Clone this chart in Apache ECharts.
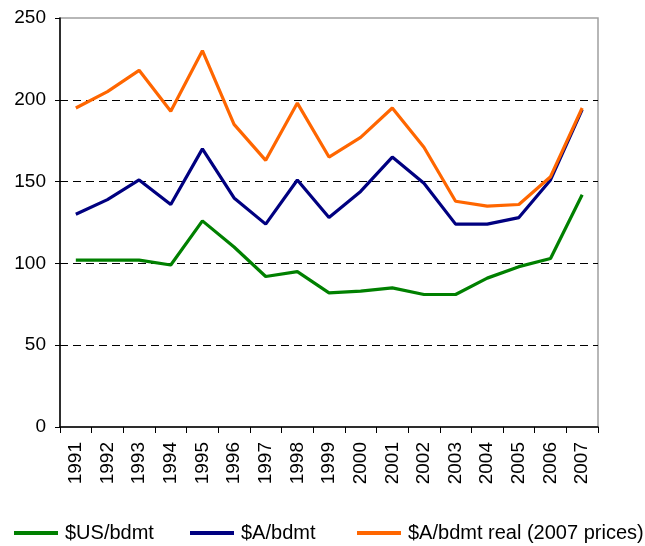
<!DOCTYPE html>
<html>
<head>
<meta charset="utf-8">
<script src="https://cdn.jsdelivr.net/npm/echarts@6/dist/echarts.min.js"></script>
<style>
  html, body { margin: 0; padding: 0; background: #fff; }
  #chart { width: 645px; height: 546px; }
</style>
</head>
<body>
<div id="chart"></div>
<script>
// Years on the category axis
const years = ['1991','1992','1993','1994','1995','1996','1997','1998','1999',
               '2000','2001','2002','2003','2004','2005','2006','2007'];

// Price per bone-dry metric tonne
const usdPerBdmt = [102, 102, 102, 99, 126, 110, 92, 95, 82, 83, 85, 81, 81, 91, 98, 103, 142];
const audPerBdmt = [130, 139, 151, 136, 170, 140, 124, 151, 128, 144, 165, 149, 124, 124, 128, 151, 194];
const audRealPerBdmt = [195, 205, 218, 193, 230, 185, 163, 198, 165, 177, 195, 171, 138, 135, 136, 153, 195];

const seriesNames = ['$US/bdmt', '$A/bdmt', '$A/bdmt real (2007 prices)'];
const seriesColors = ['#008000', '#000080', '#ff6600'];
const yTicks = { min: 0, max: 250, interval: 50 };

const font = 'Liberation Sans, Arial, sans-serif';
const chart = echarts.init(document.getElementById('chart'), null, { renderer: 'canvas' });

const legendLeft = [14, 190, 357];

chart.setOption({
  animation: false,
  backgroundColor: '#ffffff',
  textStyle: { fontFamily: font, color: '#000' },
  grid: { left: 60, top: 18, right: 47, bottom: 119, show: true, borderColor: '#a0a0a0', borderWidth: 1.5 },
  legend: seriesNames.map((n, i) => ({
    data: [n],
    left: legendLeft[i],
    top: 523,
    padding: 0,
    icon: 'rect',
    itemWidth: 44,
    itemHeight: 4,
    itemGap: 4,
    textStyle: { fontFamily: font, fontSize: 20, color: '#000', padding: [0, 0, 0, 2] }
  })),
  xAxis: {
    type: 'category',
    data: years,
    boundaryGap: true,
    axisLine: { show: true, lineStyle: { color: '#000', width: 1.5 } },
    axisTick: { show: true, length: 6, inside: false, lineStyle: { color: '#000', width: 1 } },
    axisLabel: { rotate: 90, fontSize: 19, color: '#000', fontFamily: font, margin: 15, interval: 0 },
    splitLine: { show: false }
  },
  yAxis: {
    type: 'value',
    min: yTicks.min,
    max: yTicks.max,
    interval: yTicks.interval,
    axisLine: { show: true, lineStyle: { color: '#000', width: 1.5 } },
    axisTick: { show: true, length: 5, lineStyle: { color: '#000', width: 1 } },
    axisLabel: { fontSize: 19, color: '#000', fontFamily: font, margin: 14 },
    splitLine: { show: true, showMinLine: false, showMaxLine: false, lineStyle: { color: '#000', type: [8, 5], width: 1 } }
  },
  series: [usdPerBdmt, audPerBdmt, audRealPerBdmt].map((d, i) => ({
    name: seriesNames[i],
    type: 'line',
    data: d,
    symbol: 'none',
    color: seriesColors[i],
    lineStyle: { width: 3.2, color: seriesColors[i] },
    z: 2 + i
  }))
});
</script>
</body>
</html>
